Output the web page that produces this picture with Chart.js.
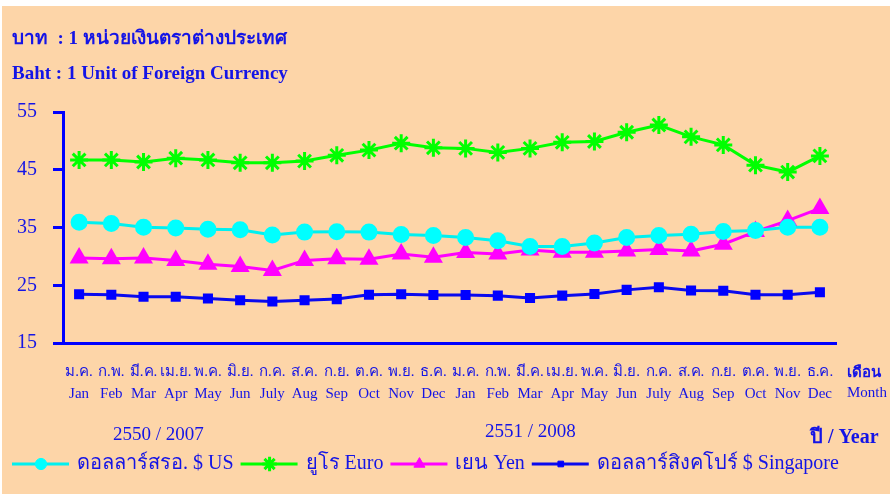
<!DOCTYPE html>
<html>
<head>
<meta charset="utf-8">
<script src="https://cdn.jsdelivr.net/npm/chart.js@4.4.0/dist/chart.umd.min.js"></script>
<style>
  html, body { margin: 0; padding: 0; background: #fff; }
  #wrap { position: absolute; left: 2px; top: 6px; width: 888px; height: 488px; background: #FDD5A8; }
  #chart { position: absolute; left: 0; top: 0; }
  .txt { position: absolute; color: #1414E6; font-family: "Liberation Serif", serif; white-space: nowrap; }
</style>
</head>
<body>
<div id="wrap"></div>
<canvas id="chart" width="893" height="494"></canvas>
<div class="txt" style="left:12px; top:22px; font-size:19px; font-weight:bold;">บาท&nbsp; : 1 หน่วยเงินตราต่างประเทศ</div>
<div class="txt" style="left:12px; top:62px; font-size:19px; font-weight:bold;">Baht : 1 Unit of Foreign Currency</div>
<div class="txt" style="left:113px; top:423px; font-size:19px;">2550 / 2007</div>
<div class="txt" style="left:485px; top:420px; font-size:19px;">2551 / 2008</div>
<div class="txt" style="left:810px; top:420px; font-size:20px; font-weight:bold;">ปี / Year</div>
<div class="txt" style="left:847px; top:360px; font-size:15px; font-weight:bold;">เดือน</div>
<div class="txt" style="left:847px; top:384px; font-size:15px;">Month</div>
<script>
// month labels, two years
const thaiMonths = ['ม.ค.', 'ก.พ.', 'มี.ค.', 'เม.ย.', 'พ.ค.', 'มิ.ย.', 'ก.ค.', 'ส.ค.', 'ก.ย.', 'ต.ค.', 'พ.ย.', 'ธ.ค.'];
const engMonths = ['Jan', 'Feb', 'Mar', 'Apr', 'May', 'Jun', 'July', 'Aug', 'Sep', 'Oct', 'Nov', 'Dec'];
const labels = [...thaiMonths, ...thaiMonths].map((t, i) => [t, engMonths[i % 12]]);

// Baht per 1 unit, Jan 2007 .. Dec 2008
const usDollar = [35.9, 35.7, 35.05, 34.9, 34.7, 34.6, 33.7, 34.2, 34.25, 34.2, 33.8, 33.6,
  33.25, 32.7, 31.7, 31.7, 32.3, 33.25, 33.6, 33.85, 34.3, 34.5, 35.05, 35.05];
const euro = [46.7, 46.7, 46.35, 47.0, 46.7, 46.2, 46.2, 46.5, 47.5, 48.4, 49.6, 48.8,
  48.7, 48.0, 48.7, 49.75, 49.9, 51.5, 52.75, 50.7, 49.3, 45.8, 44.6, 47.4];
const yen = [29.7, 29.6, 29.7, 29.3, 28.65, 28.25, 27.55, 29.3, 29.6, 29.5, 30.4, 29.85,
  30.65, 30.4, 31.1, 30.7, 30.7, 30.95, 31.2, 30.95, 32.1, 34.3, 36.2, 38.3];
const sgDollar = [23.45, 23.35, 23.0, 23.0, 22.7, 22.4, 22.2, 22.4, 22.6, 23.35, 23.45, 23.3,
  23.3, 23.2, 22.8, 23.2, 23.5, 24.2, 24.65, 24.1, 24.05, 23.35, 23.35, 23.8];

const yTicks = [15, 25, 35, 45, 55];

const blue = '#0000FF';
const textBlue = '#1414E6';
const serif = '"Liberation Serif", serif';

// legend drawn as a line with the marker in the middle, like the original
const lineLegend = {
  id: 'lineLegend',
  afterDraw(chart) {
    const ctx = chart.ctx;
    let x = 12;
    const y = 464;
    ctx.save();
    ctx.font = '20px ' + serif;
    ctx.textBaseline = 'middle';
    chart.data.datasets.forEach((ds) => {
      ctx.strokeStyle = ds.borderColor;
      ctx.lineWidth = 3;
      ctx.beginPath();
      ctx.moveTo(x, y);
      ctx.lineTo(x + 57, y);
      ctx.stroke();
      ctx.fillStyle = ds.pointBackgroundColor;
      ctx.strokeStyle = ds.pointBorderColor;
      ctx.lineWidth = ds.pointBorderWidth || 1;
      Chart.helpers.drawPoint(ctx, {
        pointStyle: ds.pointStyle,
        radius: ds.pointRadius * 0.8,
        borderWidth: ds.pointBorderWidth || 1
      }, x + 29, y);
      ctx.fillStyle = textBlue;
      ctx.fillText(ds.label, x + 65, y);
      x += 65 + ctx.measureText(ds.label).width + 7;
    });
    ctx.restore();
  }
};

new Chart(document.getElementById('chart'), {
  type: 'line',
  data: {
    labels: labels,
    datasets: [
      {
        label: 'ดอลลาร์สรอ. $ US',
        data: usDollar,
        borderColor: '#00F0F0',
        pointBackgroundColor: '#00FFFF',
        pointBorderColor: '#00FFFF',
        pointStyle: 'circle',
        pointRadius: 7,
        borderWidth: 3
      },
      {
        label: 'ยูโร Euro',
        data: euro,
        borderColor: '#00FF00',
        pointBackgroundColor: '#00FF00',
        pointBorderColor: '#00FF00',
        pointStyle: 'star',
        pointRadius: 9,
        pointBorderWidth: 3,
        borderWidth: 3
      },
      {
        label: 'เยน Yen',
        data: yen,
        borderColor: '#FF00FF',
        pointBackgroundColor: '#FF00FF',
        pointBorderColor: '#FF00FF',
        pointStyle: 'triangle',
        pointRadius: 8,
        borderWidth: 3
      },
      {
        label: 'ดอลลาร์สิงคโปร์ $ Singapore',
        data: sgDollar,
        borderColor: '#0A0AEE',
        pointBackgroundColor: '#0000FF',
        pointBorderColor: '#0000FF',
        pointStyle: 'rect',
        pointRadius: 5,
        borderWidth: 3
      }
    ]
  },
  options: {
    responsive: false,
    animation: false,
    layout: { padding: { left: 0, top: 112, right: 57, bottom: 0 } },
    plugins: {
      legend: { display: false },
      title: { display: false },
      tooltip: { enabled: false }
    },
    scales: {
      x: {
        offset: true,
        afterFit: (scale) => { scale.height = 151; },
        grid: { display: false, drawTicks: false },
        border: { display: true, color: blue, width: 3 },
        ticks: {
          autoSkip: false,
          maxRotation: 0,
          padding: 18,
          color: textBlue,
          font: { family: serif, size: 15, lineHeight: '22px' }
        }
      },
      y: {
        min: 15,
        max: 55,
        afterFit: (scale) => { scale.width = 63; },
        afterBuildTicks: (scale) => { scale.ticks = yTicks.map((v) => ({ value: v })); },
        grid: { drawOnChartArea: false, drawTicks: true, tickLength: 10, color: blue, lineWidth: 3 },
        border: { display: true, color: blue, width: 3 },
        ticks: {
          padding: 16,
          color: textBlue,
          font: { family: serif, size: 20 }
        }
      }
    }
  },
  plugins: [lineLegend]
});
</script>
</body>
</html>
